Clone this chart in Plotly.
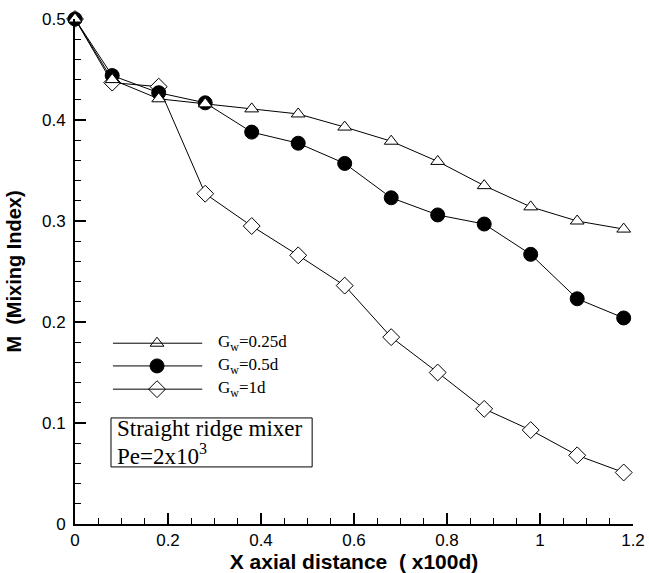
import plotly.graph_objects as go

x_vals = [0, 0.08, 0.18, 0.28, 0.38, 0.48, 0.58, 0.68, 0.78, 0.88, 0.98, 1.08, 1.18]
m_025d = [0.5, 0.440, 0.421, 0.416, 0.411, 0.406, 0.393, 0.379, 0.359, 0.335, 0.314, 0.300, 0.292]
m_05d = [0.5, 0.444, 0.427, 0.417, 0.388, 0.377, 0.357, 0.323, 0.306, 0.297, 0.267, 0.223, 0.204]
m_1d = [0.5, 0.437, 0.433, 0.327, 0.295, 0.266, 0.236, 0.185, 0.150, 0.114, 0.093, 0.068, 0.051]
series_names = ["G<sub>w</sub>=0.25d", "G<sub>w</sub>=0.5d", "G<sub>w</sub>=1d"]

styles = [
    dict(symbol="triangle-up", size=12, color="white", line=dict(color="black", width=1)),
    dict(symbol="circle", size=14, color="black", line=dict(color="black", width=1)),
    dict(symbol="diamond", size=13, color="white", line=dict(color="black", width=1)),
]

fig = go.Figure()
for ys, st in zip([m_1d, m_05d, m_025d], [styles[2], styles[1], styles[0]]):
    fig.add_trace(go.Scatter(x=x_vals, y=ys, mode="lines+markers",
                             line=dict(color="black", width=1),
                             marker=st, showlegend=False, cliponaxis=False))

# manual legend (positions as fractions of the plot area, mapped through axis ranges)
XR, YR = 1.2, 0.5
leg_y = [0.358, 0.313, 0.267]
for yy, st, name in zip(leg_y, styles, series_names):
    fig.add_shape(type="line", xref="paper", yref="paper", x0=0.068, x1=0.228, y0=yy, y1=yy,
                  line=dict(color="black", width=1))
    fig.add_trace(go.Scatter(x=[0.147 * XR], y=[yy * YR], mode="markers", marker=st,
                             showlegend=False, hoverinfo="skip", cliponaxis=False))
    fig.add_annotation(x=0.253, y=yy, xref="paper", yref="paper", text=name, showarrow=False,
                       xanchor="left", yanchor="middle",
                       font=dict(family="Liberation Serif", size=17, color="black"))

# text box
fig.add_shape(type="rect", xref="paper", yref="paper", x0=0.0645, x1=0.425, y0=0.113, y1=0.210,
              line=dict(color="black", width=1), fillcolor="white", layer="above")
fig.add_annotation(x=0.072, y=0.189, xref="paper", yref="paper", text="Straight ridge mixer",
                   showarrow=False, xanchor="left", yanchor="middle",
                   font=dict(family="Liberation Serif", size=23, color="black"))
fig.add_annotation(x=0.072, y=0.137, xref="paper", yref="paper", text="Pe=2x10<sup>3</sup>",
                   showarrow=False, xanchor="left", yanchor="middle",
                   font=dict(family="Liberation Serif", size=23, color="black"))

fig.update_layout(
    width=649, height=573,
    margin=dict(l=75, r=16, t=19, b=49),
    plot_bgcolor="white", paper_bgcolor="white",
    font=dict(family="Liberation Sans", size=17, color="black"),
    xaxis=dict(range=[0, 1.2], tickmode="linear", tick0=0, dtick=0.2, automargin=False,
               showgrid=False, zeroline=False, showline=True, linecolor="black", linewidth=2,
               ticks="inside", ticklen=11, tickwidth=2, tickcolor="black",
               minor=dict(dtick=0.05, tick0=0, ticks="inside", ticklen=6, tickwidth=1,
                          tickcolor="black", showgrid=False),
               title=dict(text="<b>X axial distance  ( x100d)</b>", standoff=4,
                          font=dict(size=21)),
               tickfont=dict(size=17)),
    yaxis=dict(range=[0, 0.5], tickmode="linear", tick0=0, dtick=0.1, automargin=False,
               showgrid=False, zeroline=False, showline=True, linecolor="black", linewidth=2,
               ticks="inside", ticklen=11, tickwidth=2, tickcolor="black",
               minor=dict(dtick=0.02, tick0=0, ticks="inside", ticklen=6, tickwidth=1,
                          tickcolor="black", showgrid=False),
               ticklabelstandoff=4,
               title=dict(text="<b>M  (Mixing Index)</b>", standoff=15, font=dict(size=20)),
               tickfont=dict(size=17)),
)

fig.write_html("out.html")
